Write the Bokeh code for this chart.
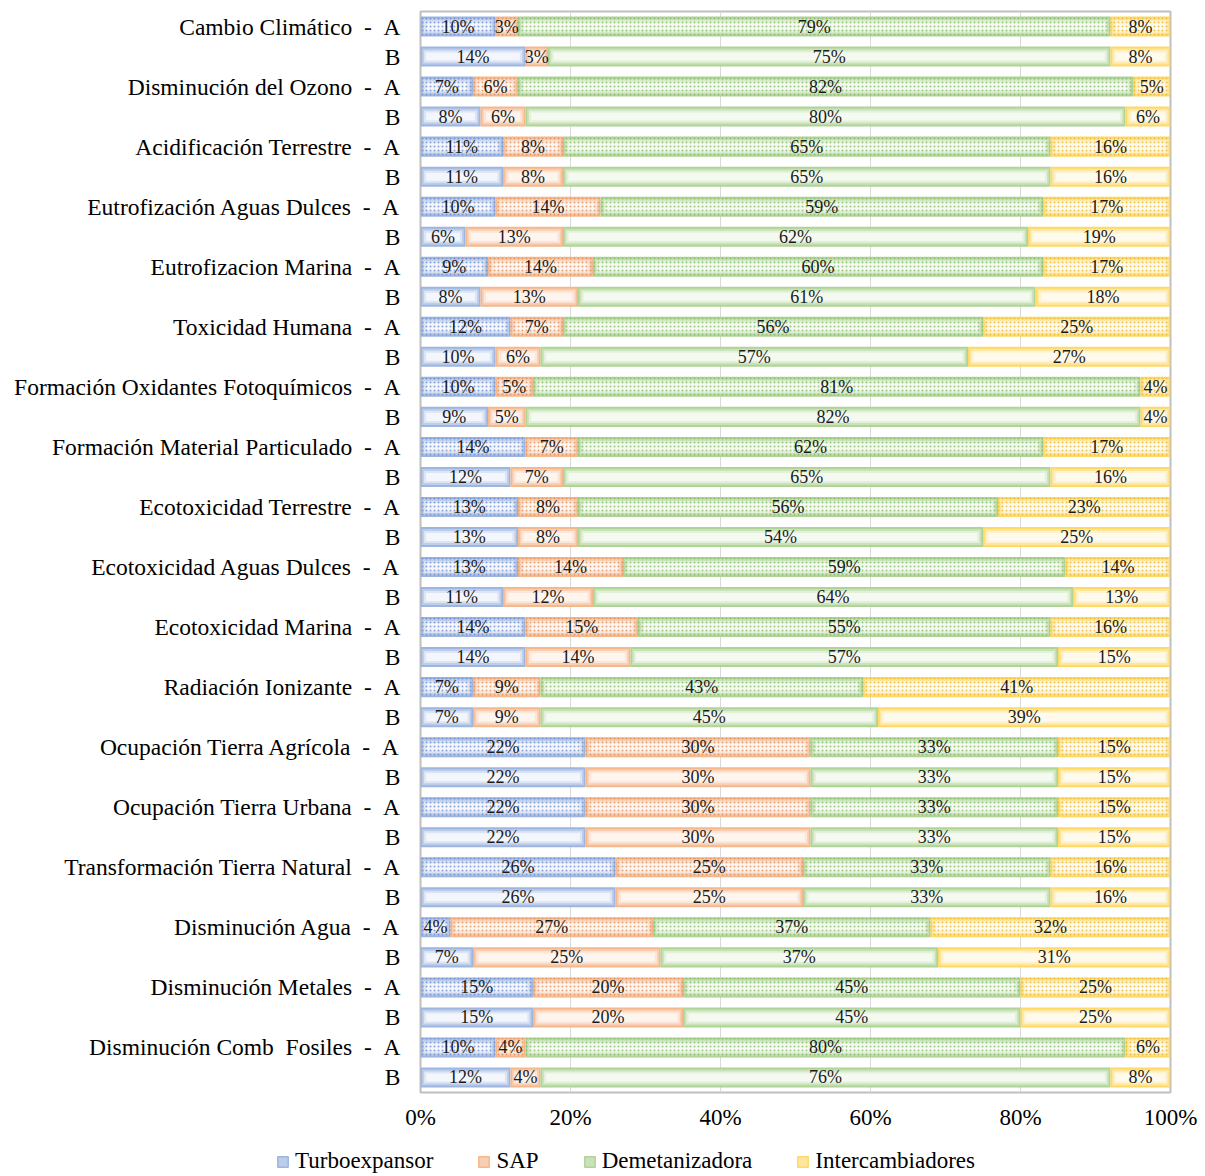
from bokeh.plotting import figure
from bokeh.models import ColumnDataSource, Range1d, FixedTicker, PrintfTickFormatter, Legend, LegendItem
from bokeh.core.properties import value
from bokeh.embed import file_html
from bokeh.resources import INLINE

categories = ["Cambio Climático", "Disminución del Ozono", "Acidificación Terrestre",
              "Eutrofización Aguas Dulces", "Eutrofizacion Marina", "Toxicidad Humana",
              "Formación Oxidantes Fotoquímicos", "Formación Material Particulado",
              "Ecotoxicidad Terrestre", "Ecotoxicidad Aguas Dulces", "Ecotoxicidad Marina",
              "Radiación Ionizante", "Ocupación Tierra Agrícola", "Ocupación Tierra Urbana",
              "Transformación Tierra Natural", "Disminución Agua", "Disminución Metales",
              "Disminución Comb\u00a0\u00a0Fosiles"]
variants = ["A", "B"]
series = ["Turboexpansor", "SAP", "Demetanizadora", "Intercambiadores"]

turbo_A = [10, 7, 11, 10, 9, 12, 10, 14, 13, 13, 14, 7, 22, 22, 26, 4, 15, 10]
turbo_B = [14, 8, 11, 6, 8, 10, 9, 12, 13, 11, 14, 7, 22, 22, 26, 7, 15, 12]
sap_A = [3, 6, 8, 14, 14, 7, 5, 7, 8, 14, 15, 9, 30, 30, 25, 27, 20, 4]
sap_B = [3, 6, 8, 13, 13, 6, 5, 7, 8, 12, 14, 9, 30, 30, 25, 25, 20, 4]
deme_A = [79, 82, 65, 59, 60, 56, 81, 62, 56, 59, 55, 43, 33, 33, 33, 37, 45, 80]
deme_B = [75, 80, 65, 62, 61, 57, 82, 65, 54, 64, 57, 45, 33, 33, 33, 37, 45, 76]
inter_A = [8, 5, 16, 17, 17, 25, 4, 17, 23, 14, 16, 41, 15, 15, 16, 32, 20, 6]
inter_B = [8, 6, 16, 19, 18, 27, 4, 16, 25, 13, 15, 39, 15, 15, 16, 31, 20, 8]
# labels shown in the source that differ from the drawn width
label_overrides = {("Disminución Metales", "A", "Intercambiadores"): "25%",
                   ("Disminución Metales", "B", "Intercambiadores"): "25%"}

x_ticks = [0, 20, 40, 60, 80, 100]

values = {
    "A": [turbo_A, sap_A, deme_A, inter_A],
    "B": [turbo_B, sap_B, deme_B, inter_B],
}

palette = {
    # edge, mid, light, lightest, dot
    "Turboexpansor": ["#9db5e0", "#bccde9", "#dde5f4", "#f3f6fc", "#6f8fcf"],
    "SAP": ["#f5b78c", "#f9cfb3", "#fce6d8", "#fef5ef", "#e0915c"],
    "Demetanizadora": ["#afd496", "#c9e2b9", "#e3f1db", "#f4faf0", "#86bb66"],
    "Intercambiadores": ["#ffd966", "#ffe69c", "#fff2cf", "#fffbec", "#e8b830"],
}

FONT = "Liberation Serif"

p = figure(width=1200, height=1145, output_backend="svg", toolbar_location=None,
           x_range=Range1d(0, 100), y_range=Range1d(35.5, -0.5),
           min_border_left=420, min_border_right=30, min_border_top=11, min_border_bottom=53,
           background_fill_color="white", border_fill_color="white")
p.outline_line_color = "#bfbfbf"
p.outline_line_width = 2

# grid
p.ygrid.grid_line_color = None
p.xgrid.ticker = FixedTicker(ticks=x_ticks)
p.xgrid.grid_line_color = "#d9d9d9"
p.xgrid.grid_line_width = 1

BAR_H = 0.667
layers = [(0.0, BAR_H), (0.22, BAR_H * 0.80), (0.45, BAR_H * 0.60), (0.75, BAR_H * 0.40)]

lab_x, lab_y, lab_t = [], [], []
for si, s in enumerate(series):
    cols = palette[s]
    rects = {li: dict(left=[], right=[], top=[], bottom=[]) for li in range(len(layers))}
    hatch = dict(left=[], right=[], top=[], bottom=[])
    for ci, cat in enumerate(categories):
        for vi, v in enumerate(variants):
            row = ci * 2 + vi
            vals = [values[v][k][ci] for k in range(4)]
            left = sum(vals[:si])
            w = vals[si]
            right = left + w
            for li, (dx, h) in enumerate(layers):
                ddx = min(dx, w * 0.2)
                rects[li]["left"].append(left + ddx)
                rects[li]["right"].append(right - ddx)
                rects[li]["top"].append(row - h / 2)
                rects[li]["bottom"].append(row + h / 2)
            if v == "A":
                hatch["left"].append(left)
                hatch["right"].append(right)
                hatch["top"].append(row - BAR_H / 2)
                hatch["bottom"].append(row + BAR_H / 2)
            lab_x.append(left + w / 2)
            lab_y.append(row)
            lab_t.append(label_overrides.get((cat, v, s), f"{w}%"))
    for li in range(len(layers)):
        p.quad(source=ColumnDataSource(rects[li]), left="left", right="right", top="top",
               bottom="bottom", fill_color=cols[li], line_color=None)
    p.quad(source=ColumnDataSource(hatch), left="left", right="right", top="top", bottom="bottom",
           fill_alpha=0, line_color=None, hatch_pattern=".", hatch_color=cols[4],
           hatch_scale=4, hatch_weight=1.2, hatch_alpha=0.8)

p.text(x=lab_x, y=lab_y, text=lab_t, text_align="center", text_baseline="middle",
       text_font=value(FONT), text_font_size="18px", text_color="#1a1a1a")

# axes
p.yaxis.ticker = FixedTicker(ticks=list(range(36)))
SEP = "\u00a0\u00a0-\u00a0\u00a0"
ylabels = {}
for ci, cat in enumerate(categories):
    ylabels[ci * 2] = f"{cat}{SEP}A"
    ylabels[ci * 2 + 1] = "B"
p.yaxis.major_label_overrides = ylabels
p.yaxis.axis_line_color = None
p.yaxis.major_tick_line_color = None
p.yaxis.minor_tick_line_color = None
p.yaxis.major_tick_out = 0
p.yaxis.major_tick_in = 0
p.yaxis.major_label_standoff = 20
p.yaxis.major_label_text_font = FONT
p.yaxis.major_label_text_font_size = "23.5px"
p.yaxis.major_label_text_color = "black"

p.xaxis.ticker = FixedTicker(ticks=x_ticks)
p.xaxis.formatter = PrintfTickFormatter(format="%d%%")
p.xaxis.axis_line_color = None
p.xaxis.major_tick_line_color = None
p.xaxis.minor_tick_line_color = None
p.xaxis.major_tick_out = 0
p.xaxis.major_tick_in = 0
p.xaxis.major_label_standoff = 12
p.xaxis.major_label_text_font = FONT
p.xaxis.major_label_text_font_size = "23px"
p.xaxis.major_label_text_color = "black"

# legend strip (separate root, so its frame is not aligned to the chart's)
lg = figure(width=1200, height=30, output_backend="svg", toolbar_location=None,
            x_range=Range1d(0, 1), y_range=Range1d(0, 1), min_border=0,
            background_fill_color="white", border_fill_color="white")
lg.axis.visible = False
lg.grid.grid_line_color = None
lg.outline_line_color = None
legend_items = []
for s in series:
    cols = palette[s]
    dummy = lg.quad(source=ColumnDataSource(dict(left=[0], right=[0], top=[0], bottom=[0])),
                    left="left", right="right", top="top", bottom="bottom",
                    fill_color=cols[1], line_color=cols[0], line_width=1.5)
    legend_items.append(LegendItem(label=s, renderers=[dummy]))
legend = Legend(items=legend_items, orientation="horizontal", location=(276, 1),
                glyph_width=13, glyph_height=13, label_standoff=6, spacing=44,
                padding=0, margin=0, border_line_color=None, background_fill_alpha=0,
                label_text_font=FONT, label_text_font_size="23px", label_text_color="black")
lg.add_layout(legend)

open("out.html", "w").write(file_html([p, lg], INLINE))
